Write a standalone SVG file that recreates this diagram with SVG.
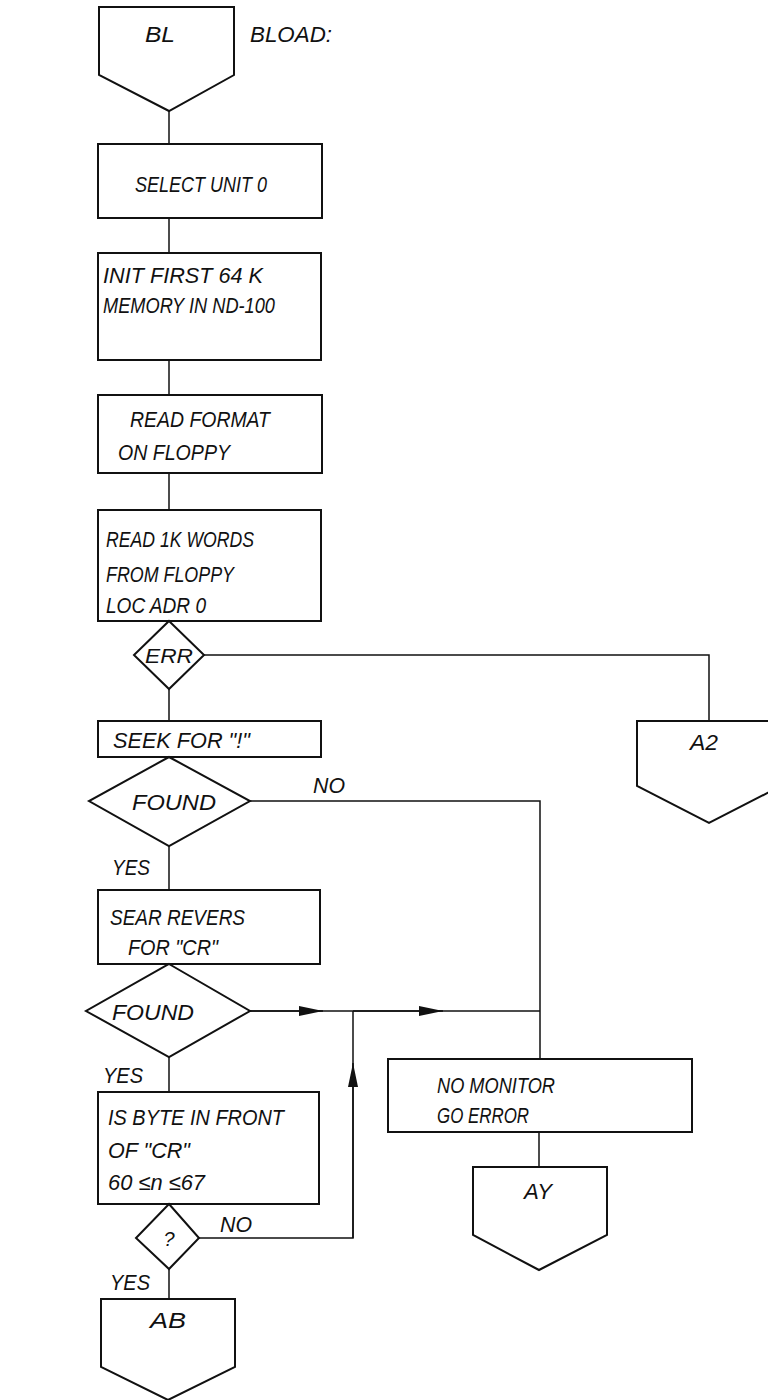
<svg xmlns="http://www.w3.org/2000/svg" width="768" height="1400" viewBox="0 0 768 1400">
<style>
.s{fill:#fff;stroke:#111;stroke-width:2}
.c{fill:none;stroke:#111;stroke-width:1.5}
text{font-family:"Liberation Sans",Arial,sans-serif;font-style:italic;font-size:22px;fill:#111}
.m{text-anchor:middle}
</style>
<defs>
<marker id="ah" viewBox="0 0 24 10" refX="24" refY="5" markerWidth="24" markerHeight="10" markerUnits="userSpaceOnUse" orient="auto"><path d="M0,0 L24,5 L0,10 Z" fill="#111"/></marker>
</defs>
<g id="connectors">
<path class="c" d="M169,111 V144"/>
<path class="c" d="M169,218 V253"/>
<path class="c" d="M169,360 V395"/>
<path class="c" d="M169,473 V510"/>
<path class="c" d="M169,689 V721"/>
<path class="c" d="M204,655 H709 V721"/>
<path class="c" d="M169,846 V890"/>
<path class="c" d="M250,801 H540 V1059"/>
<path class="c" d="M250,1011 H540"/>
<path class="c" d="M250,1011 H323" marker-end="url(#ah)"/>
<path class="c" d="M353,1011 H443" marker-end="url(#ah)"/>
<path class="c" d="M169,1057 V1092"/>
<path class="c" d="M199,1238 H353 V1011"/>
<path class="c" d="M353,1238 V1063" marker-end="url(#ah)"/>
<path class="c" d="M169,1269 V1299"/>
<path class="c" d="M539,1132 V1167"/>
<text x="313" y="793" textLength="32" lengthAdjust="spacingAndGlyphs">NO</text>
<text x="112" y="875" textLength="38" lengthAdjust="spacingAndGlyphs">YES</text>
<text x="103" y="1083" textLength="40" lengthAdjust="spacingAndGlyphs">YES</text>
<text x="220" y="1232" textLength="32" lengthAdjust="spacingAndGlyphs">NO</text>
<text x="110" y="1290" textLength="40" lengthAdjust="spacingAndGlyphs">YES</text>
</g>
<g id="bl">
<path class="s" d="M99,7 H234 V75 L169,111 L99,75 Z"/>
<text x="145" y="42" textLength="30" lengthAdjust="spacingAndGlyphs">BL</text>
<text x="250" y="42" textLength="82" lengthAdjust="spacingAndGlyphs">BLOAD:</text>
</g>
<g id="select">
<rect class="s" x="98" y="144" width="224" height="74"/>
<text x="135" y="192" textLength="132" lengthAdjust="spacingAndGlyphs">SELECT UNIT  0</text>
</g>
<g id="init">
<rect class="s" x="98" y="253" width="223" height="107"/>
<text x="103" y="283" textLength="160" lengthAdjust="spacingAndGlyphs">INIT FIRST  64 K</text>
<text x="103" y="313" textLength="172" lengthAdjust="spacingAndGlyphs">MEMORY  IN  ND-100</text>
</g>
<g id="readformat">
<rect class="s" x="98" y="395" width="224" height="78"/>
<text x="130" y="427" textLength="140" lengthAdjust="spacingAndGlyphs">READ FORMAT</text>
<text x="118" y="460" textLength="112" lengthAdjust="spacingAndGlyphs">ON FLOPPY</text>
</g>
<g id="read1k">
<rect class="s" x="98" y="510" width="223" height="111"/>
<text x="106" y="547" textLength="148" lengthAdjust="spacingAndGlyphs">READ  1K  WORDS</text>
<text x="106" y="582" textLength="128" lengthAdjust="spacingAndGlyphs">FROM FLOPPY</text>
<text x="106" y="613" textLength="100" lengthAdjust="spacingAndGlyphs">LOC ADR  0</text>
</g>
<g id="err">
<path class="s" d="M169,621 L204,655 L169,689 L134,655 Z"/>
<text x="145" y="663" style="font-size:20px" textLength="48" lengthAdjust="spacingAndGlyphs">ERR</text>
</g>
<g id="a2">
<path class="s" d="M637,721 H781 V786 L709,823 L637,786 Z"/>
<text x="690" y="750" textLength="28" lengthAdjust="spacingAndGlyphs">A2</text>
</g>
<g id="seek">
<rect class="s" x="98" y="721" width="223" height="36"/>
<text x="113" y="748" textLength="137" lengthAdjust="spacingAndGlyphs">SEEK FOR  "!"</text>
</g>
<g id="found1">
<path class="s" d="M169,757 L250,801 L169,846 L89,801 Z"/>
<text x="132" y="810" textLength="84" lengthAdjust="spacingAndGlyphs">FOUND</text>
</g>
<g id="sear">
<rect class="s" x="98" y="890" width="222" height="74"/>
<text x="110" y="925" textLength="135" lengthAdjust="spacingAndGlyphs">SEAR REVERS</text>
<text x="128" y="955" textLength="90" lengthAdjust="spacingAndGlyphs">FOR "CR"</text>
</g>
<g id="found2">
<path class="s" d="M169,964 L250,1011 L169,1057 L86,1011 Z"/>
<text x="112" y="1020" textLength="82" lengthAdjust="spacingAndGlyphs">FOUND</text>
</g>
<g id="isbyte">
<rect class="s" x="98" y="1092" width="221" height="112"/>
<text x="108" y="1125" textLength="176" lengthAdjust="spacingAndGlyphs">IS BYTE  IN FRONT</text>
<text x="108" y="1158" textLength="82" lengthAdjust="spacingAndGlyphs">OF "CR"</text>
<text x="108" y="1190" textLength="97" lengthAdjust="spacingAndGlyphs">60 ≤n ≤67</text>
</g>
<g id="q">
<path class="s" d="M169,1204 L199,1238 L169,1269 L136,1238 Z"/>
<text class="m" x="169" y="1246" style="font-size:20px">?</text>
</g>
<g id="ab">
<path class="s" d="M101,1299 H235 V1367 L168,1400 L101,1367 Z"/>
<text x="150" y="1328" textLength="36" lengthAdjust="spacingAndGlyphs">AB</text>
</g>
<g id="nomonitor">
<rect class="s" x="388" y="1059" width="304" height="73"/>
<text x="437" y="1093" textLength="118" lengthAdjust="spacingAndGlyphs">NO MONITOR</text>
<text x="437" y="1123" textLength="92" lengthAdjust="spacingAndGlyphs">GO ERROR</text>
</g>
<g id="ay">
<path class="s" d="M473,1167 H607 V1235 L539,1270 L473,1235 Z"/>
<text x="524" y="1199" textLength="28" lengthAdjust="spacingAndGlyphs">AY</text>
</g>
</svg>
